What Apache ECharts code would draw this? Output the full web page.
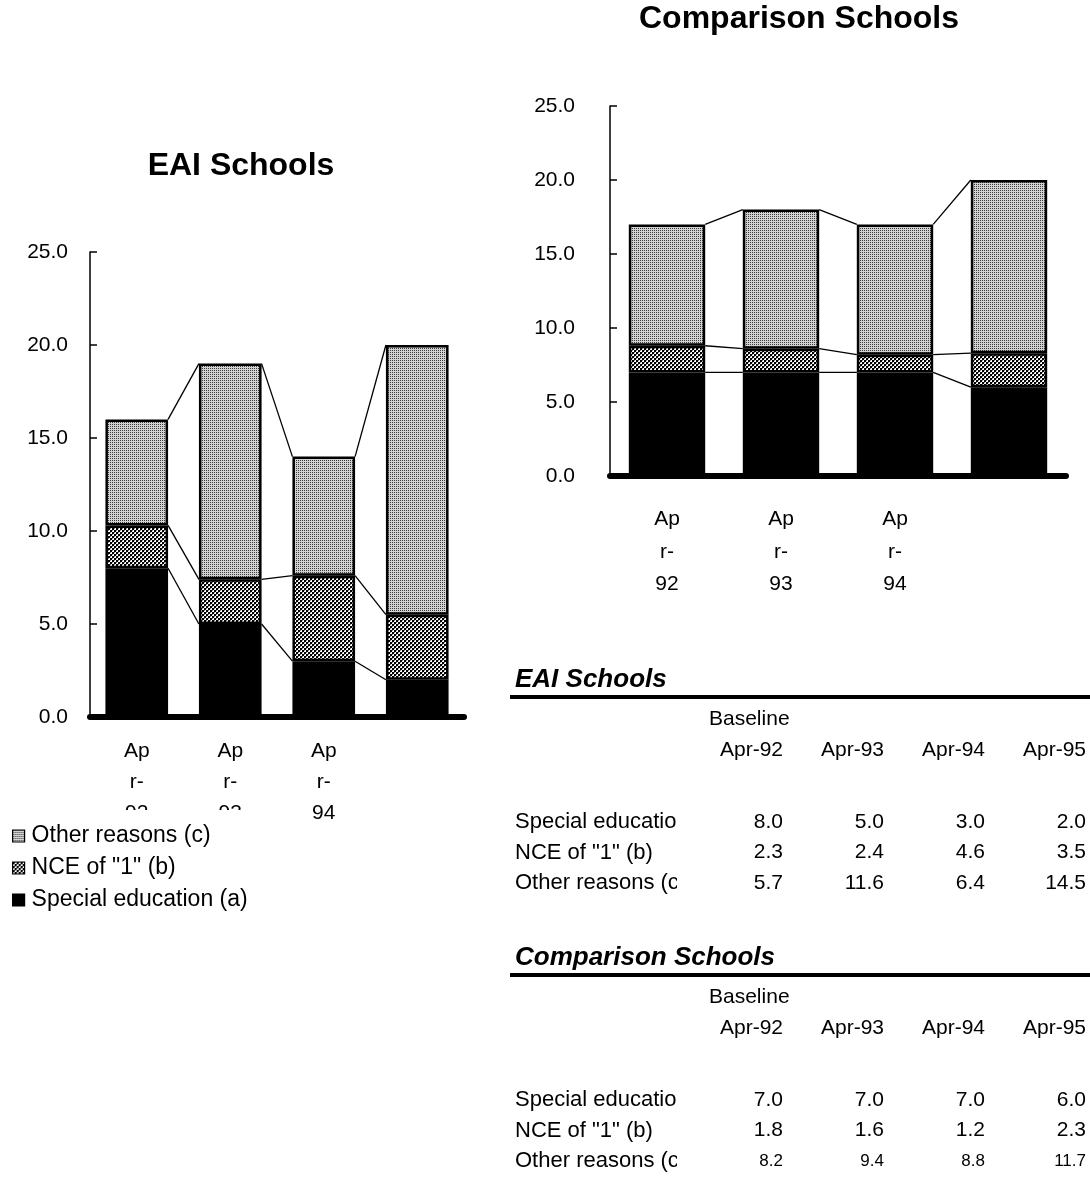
<!DOCTYPE html>
<html>
<head>
<meta charset="utf-8">
<script src="https://cdn.jsdelivr.net/npm/echarts@6/dist/echarts.min.js"></script>
<style>
  html, body { margin: 0; padding: 0; background: #fff; }
  #main { width: 1090px; height: 1183px; }
</style>
</head>
<body>
<div id="main"></div>
<script>
// Survey periods (x categories)
const periods = ['Apr-92', 'Apr-93', 'Apr-94', 'Apr-95'];
const seriesNames = ['Special education (a)', 'NCE of "1" (b)', 'Other reasons (c)'];

// EAI schools, percent of students by reason
const eaiSpecial = [8.0, 5.0, 3.0, 2.0];
const eaiNce = [2.3, 2.4, 4.6, 3.5];
const eaiOther = [5.7, 11.6, 6.4, 14.5];

// Comparison schools
const cmpSpecial = [7.0, 7.0, 7.0, 6.0];
const cmpNce = [1.8, 1.6, 1.2, 2.3];
const cmpOther = [8.2, 9.4, 8.8, 11.7];

const yMin = 0, yMax = 25, yStep = 5;
const FONT = '"Liberation Sans", Arial, sans-serif';
const BAR_RATIO = 0.67;

// --- fill patterns -------------------------------------------------------
function makePattern(size, painter) {
  const c = document.createElement('canvas');
  c.width = size; c.height = size;
  const g = c.getContext('2d');
  painter(g);
  return { image: c, repeat: 'repeat' };
}
// fine grey dots
const dotFill = makePattern(2, g => {
  g.fillStyle = '#d2d2d2'; g.fillRect(0, 0, 2, 2);
  g.fillStyle = '#3c3c3c'; g.fillRect(0, 0, 1, 1);
});
// coarse checker
const checkFill = makePattern(4, g => {
  g.fillStyle = '#ffffff'; g.fillRect(0, 0, 4, 4);
  g.fillStyle = '#000000';
  g.fillRect(0, 0, 2, 2); g.fillRect(2, 2, 2, 2);
  g.fillStyle = '#808080';
  g.fillRect(2, 0, 1, 1); g.fillRect(0, 2, 1, 1);
});
const fills = ['#000000', checkFill, dotFill];

// --- chart pieces ----------------------------------------------------------
function barSeries(gridIdx, layers, stackId) {
  return layers.map((arr, k) => ({
    name: seriesNames[k],
    type: 'bar',
    stack: stackId,
    xAxisIndex: gridIdx,
    yAxisIndex: gridIdx,
    barWidth: (BAR_RATIO * 100) + '%',
    data: arr,
    itemStyle: { color: fills[k], borderColor: '#000', borderWidth: 2.5 },
    emphasis: { disabled: true },
    z: 3
  }));
}

// thin lines joining the top of each stacked segment to the next bar
function connectorSeries(gridIdx, layers) {
  const cum = [];
  let run = periods.map(() => 0);
  layers.forEach(arr => {
    run = run.map((v, i) => v + arr[i]);
    cum.push(run.slice());
  });
  return {
    type: 'custom',
    xAxisIndex: gridIdx,
    yAxisIndex: gridIdx,
    silent: true,
    z: 2,
    data: periods.slice(0, -1).map((_, i) => [i, 0]),
    renderItem(params, api) {
      const i = api.value(0);
      const half = api.size([1, 0])[0] * BAR_RATIO / 2;
      return {
        type: 'group',
        children: cum.map(c => {
          const a = api.coord([i, c[i]]);
          const b = api.coord([i + 1, c[i + 1]]);
          return {
            type: 'line',
            shape: { x1: a[0] + half, y1: a[1], x2: b[0] - half, y2: b[1] },
            style: { stroke: '#000', lineWidth: 1.3 }
          };
        })
      };
    }
  };
}

function xAxis(gridIdx, margin, lineHeight) {
  return {
    type: 'category',
    gridIndex: gridIdx,
    data: periods,
    axisLine: { lineStyle: { color: '#000', width: 6, cap: 'round' } },
    axisTick: { show: false },
    axisLabel: {
      // the last period has no label under its bar
      interval: idx => idx < periods.length - 1,
      margin: margin,
      color: '#000',
      fontFamily: FONT,
      fontSize: 21,
      lineHeight: lineHeight,
      // narrow label cell: text wraps every two characters
      formatter: v => v.match(/.{1,2}/g).join('\n')
    },
    splitLine: { show: false }
  };
}

function yAxis(gridIdx, margin) {
  return {
    type: 'value',
    gridIndex: gridIdx,
    min: yMin, max: yMax, interval: yStep,
    axisLine: { show: true, lineStyle: { color: '#000', width: 1.5 } },
    axisTick: { show: true, inside: true, length: 7, lineStyle: { color: '#000', width: 1.5 } },
    axisLabel: {
      margin: margin,
      color: '#000',
      fontFamily: FONT,
      fontSize: 21,
      formatter: v => v.toFixed(1)
    },
    splitLine: { show: false }
  };
}

// --- data tables -------------------------------------------------------------
const tableCols = [783, 884, 985, 1086];
const tableLeft = 515;
const labelClip = 677;

function tableGraphics(title, top, layers, lastRowSize) {
  const els = [];
  const txt = (x, y, text, extra) => els.push({
    type: 'text', x, y, z: 10,
    style: Object.assign({
      text, fill: '#000', font: '21px ' + FONT,
      textAlign: 'left', textVerticalAlign: 'middle'
    }, extra || {})
  });
  txt(tableLeft, top, title, { font: 'italic bold 26px ' + FONT });
  els.push({
    type: 'line', z: 10,
    shape: { x1: 510, y1: top + 17, x2: 1090, y2: top + 17 },
    style: { stroke: '#000', lineWidth: 4 }
  });
  txt(709, top + 39, 'Baseline');
  periods.forEach((p, j) => txt(tableCols[j], top + 70, p, { textAlign: 'right' }));
  layers.forEach((arr, r) => {
    const y = top + 142 + r * 30.5;
    txt(tableLeft, y, seriesNames[r], { font: '22px ' + FONT });
    els.push({
      type: 'rect', z: 11,
      shape: { x: labelClip, y: y - 14, width: 50, height: 28 },
      style: { fill: '#fff' }
    });
    arr.forEach((v, j) => {
      const size = (r === layers.length - 1 && lastRowSize) ? lastRowSize : 21;
      els.push({
        type: 'text', x: tableCols[j], y, z: 12,
        style: {
          text: v.toFixed(1), fill: '#000', font: size + 'px ' + FONT,
          textAlign: 'right', textVerticalAlign: 'middle'
        }
      });
    });
  });
  return els;
}

const eaiLayers = [eaiSpecial, eaiNce, eaiOther];
const cmpLayers = [cmpSpecial, cmpNce, cmpOther];

const chart = echarts.init(document.getElementById('main'), null, { renderer: 'canvas' });

chart.setOption({
  animation: false,
  backgroundColor: '#fff',
  textStyle: { fontFamily: FONT },
  grid: [
    { left: 90, top: 252, width: 374, height: 465 },
    { left: 610, top: 106, width: 456, height: 370 }
  ],
  xAxis: [xAxis(0, 19, 31), xAxis(1, 27, 32.5)],
  yAxis: [yAxis(0, 22), yAxis(1, 35)],
  legend: {
    orient: 'vertical',
    left: 6,
    top: 810,
    padding: [14, 10, 6, 6],
    backgroundColor: '#fff',
    data: [seriesNames[2], seriesNames[1], seriesNames[0]],
    icon: 'rect',
    itemWidth: 12,
    itemHeight: 12,
    itemGap: 8,
    itemStyle: { borderColor: '#000', borderWidth: 1.2 },
    textStyle: { color: '#000', fontFamily: FONT, fontSize: 23, lineHeight: 24, padding: [0, 0, 0, 2] },
    selectedMode: false
  },
  graphic: [
    {
      type: 'text', x: 241, y: 166, z: 10,
      style: { text: 'EAI Schools', font: 'bold 32px ' + FONT, fill: '#000', textAlign: 'center', textVerticalAlign: 'middle' }
    },
    {
      type: 'text', x: 799, y: 19, z: 10,
      style: { text: 'Comparison Schools', font: 'bold 32px ' + FONT, fill: '#000', textAlign: 'center', textVerticalAlign: 'middle' }
    },
    ...tableGraphics('EAI Schools', 680, eaiLayers),
    ...tableGraphics('Comparison Schools', 958, cmpLayers, 17)
  ],
  series: [
    ...barSeries(0, eaiLayers, 'eai'),
    connectorSeries(0, eaiLayers),
    ...barSeries(1, cmpLayers, 'cmp'),
    connectorSeries(1, cmpLayers)
  ]
});
</script>
</body>
</html>
